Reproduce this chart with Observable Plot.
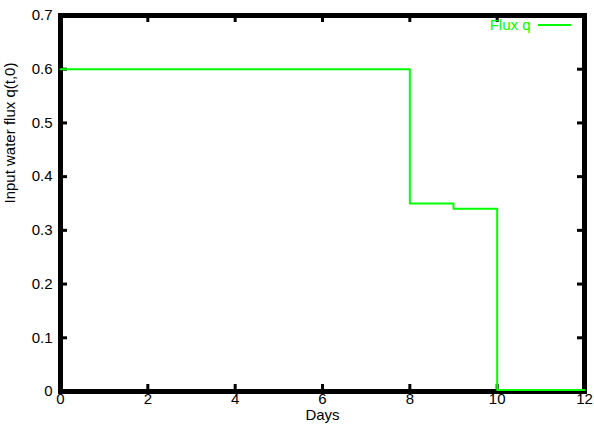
<!DOCTYPE html>
<html>
<head>
<meta charset="utf-8">
<script src="https://cdn.jsdelivr.net/npm/d3@7"></script>
<script src="https://cdn.jsdelivr.net/npm/@observablehq/plot@0.6"></script>
<style>
  body { margin: 0; background: #fff; }
  svg { font-family: "Liberation Sans", Arial, sans-serif; }
</style>
</head>
<body>
<div id="chart"></div>
<script>
// Step data (value holds from each day until the next)
const days = [0, 8, 9, 10, 12];
const flux = [0.6, 0.35, 0.34, 0.003, 0.003];
const xTicks = [0, 2, 4, 6, 8, 10, 12];
const yTicks = [0, 0.1, 0.2, 0.3, 0.4, 0.5, 0.6, 0.7];
const seriesName = "Flux q";
const xLabel = "Days";
const yLabel = "Input water flux q(t,0)";

const data = days.map((d, i) => ({day: d, q: flux[i]}));
const green = "#00ff00";
const W = 594, H = 425, mL = 60, mR = 10, mT = 15, mB = 34;
const plotH = H - mT - mB, plotW = W - mL - mR;
const tickLen = 7;

// legend sample line, positioned relative to the frame
function legendLine(index, scales, values, dims) {
  const g = document.createElementNS("http://www.w3.org/2000/svg", "line");
  const xr = dims.width - dims.marginRight;
  g.setAttribute("x1", xr - 46);
  g.setAttribute("x2", xr - 13);
  g.setAttribute("y1", dims.marginTop + 10);
  g.setAttribute("y2", dims.marginTop + 10);
  g.setAttribute("stroke", green);
  g.setAttribute("stroke-width", 2);
  return g;
}

const chart = Plot.plot({
  width: W, height: H,
  marginLeft: mL, marginRight: mR, marginTop: mT, marginBottom: mB,
  style: {fontSize: "15px", fontFamily: "Liberation Sans, Arial, sans-serif", color: "#000", background: "#fff"},
  x: {domain: [0, 12], ticks: xTicks, label: null},
  y: {domain: [0, 0.7], ticks: yTicks, label: null},
  marks: [
    Plot.axisX({ticks: xTicks, tickSize: 0, tickPadding: 2, label: null, tickFormat: d => String(d), fontSize: 15}),
    Plot.axisY({ticks: yTicks, tickSize: 0, tickPadding: 8, label: null, tickFormat: d => String(d), fontSize: 15}),
    // inward ticks on all four sides
    Plot.ruleX(xTicks, {x: d => d, insetTop: plotH - tickLen, stroke: "#000", strokeWidth: 3}),
    Plot.ruleX(xTicks, {x: d => d, insetBottom: plotH - tickLen, stroke: "#000", strokeWidth: 3}),
    Plot.ruleY(yTicks, {y: d => d, insetRight: plotW - tickLen, stroke: "#000", strokeWidth: 3}),
    Plot.ruleY(yTicks, {y: d => d, insetLeft: plotW - tickLen, stroke: "#000", strokeWidth: 3}),
    Plot.frame({stroke: "#000", strokeWidth: 5}),
    Plot.line(data, {x: "day", y: "q", curve: "step-after", stroke: green, strokeWidth: 2}),
    // axis titles
    Plot.text([xLabel], {frameAnchor: "bottom", dy: 28, lineAnchor: "bottom", fontSize: 15, fill: "#000", textAnchor: "middle"}),
    Plot.text([yLabel], {frameAnchor: "left", dx: -50, rotate: -90, fontSize: 15, fill: "#000"}),
    // legend
    Plot.text([seriesName], {frameAnchor: "top-right", dx: -54, dy: 10, lineAnchor: "middle", textAnchor: "end", fontSize: 15, fill: green}),
    legendLine
  ]
});
document.getElementById("chart").appendChild(chart);
</script>
</body>
</html>
